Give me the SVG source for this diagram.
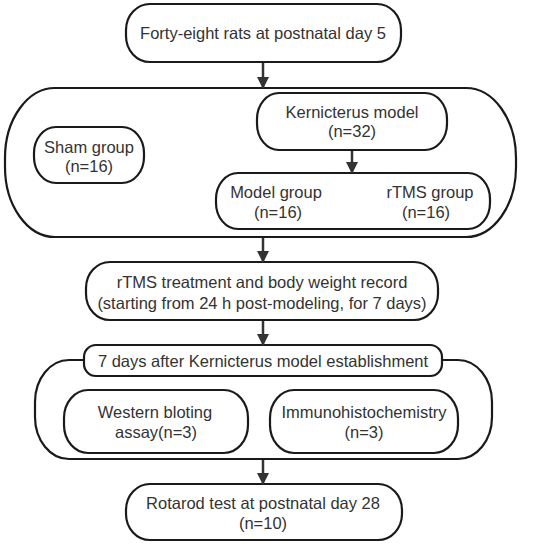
<svg xmlns="http://www.w3.org/2000/svg" width="534" height="550" viewBox="0 0 534 550">
<defs>
<marker id="ah" markerUnits="userSpaceOnUse" markerWidth="12" markerHeight="12" refX="11" refY="6" orient="auto">
<path d="M0,0 L12,6 L0,12 Z" fill="#333"/>
</marker>
<style>
.box{fill:#fff;stroke:#1a1a1a;stroke-width:2.2}
.t{font-family:"Liberation Sans",Arial,sans-serif;font-size:16.5px;fill:#333;text-anchor:middle}
.c{stroke:#333;stroke-width:2.5;fill:none}
</style>
</defs>
<rect width="534" height="550" fill="#fff"/>
<g id="n1"><rect class="box" x="126" y="4" width="275" height="58" rx="24" ry="26"/>
<text class="t" x="263" y="39">Forty-eight rats at postnatal day 5</text></g>
<g id="g1"><rect class="box" x="5" y="88" width="511" height="149" rx="50" ry="70"/></g>
<g id="n2"><rect class="box" x="257" y="93" width="190" height="57" rx="22" ry="26"/>
<text class="t" x="352" y="118">Kernicterus model</text><text class="t" x="352" y="137">(n=32)</text></g>
<g id="n3"><rect class="box" x="34" y="127" width="110" height="56" rx="22" ry="26"/>
<text class="t" x="89" y="153">Sham group</text><text class="t" x="89" y="172">(n=16)</text></g>
<g id="n4"><rect class="box" x="216" y="173" width="274" height="56" rx="22" ry="26"/>
<text class="t" x="276" y="198">Model group</text><text class="t" x="278" y="218">(n=16)</text>
<text class="t" x="430" y="198">rTMS group</text><text class="t" x="426" y="218">(n=16)</text></g>
<g id="n5"><rect class="box" x="86" y="262" width="352" height="58" rx="24" ry="26"/>
<text class="t" x="262" y="288">rTMS treatment and body weight record</text>
<text class="t" x="262" y="309">(starting from 24 h post-modeling, for 7 days)</text></g>
<g id="g2"><rect class="box" x="35" y="360" width="457" height="99" rx="34" ry="42"/></g>
<g id="n6"><rect class="box" x="84" y="345" width="358" height="31" rx="12"/>
<text class="t" x="263" y="367">7 days after Kernicterus model establishment</text></g>
<g id="n7"><rect class="box" x="64" y="390" width="184" height="63" rx="24" ry="28"/>
<text class="t" x="155" y="418">Western bloting</text><text class="t" x="156" y="438">assay(n=3)</text></g>
<g id="n8"><rect class="box" x="270" y="390" width="188" height="63" rx="24" ry="28"/>
<text class="t" x="364" y="418">Immunohistochemistry</text><text class="t" x="364" y="438">(n=3)</text></g>
<g id="n9"><rect class="box" x="126" y="484" width="276" height="56" rx="24" ry="26"/>
<text class="t" x="263" y="509">Rotarod test at postnatal day 28</text><text class="t" x="263" y="529">(n=10)</text></g>
<g id="connectors">
<line class="c" x1="263" y1="63" x2="263" y2="88" marker-end="url(#ah)"/>
<line class="c" x1="352" y1="151" x2="352" y2="173" marker-end="url(#ah)"/>
<line class="c" x1="263" y1="238" x2="263" y2="262" marker-end="url(#ah)"/>
<line class="c" x1="263" y1="321" x2="263" y2="345" marker-end="url(#ah)"/>
<line class="c" x1="263" y1="460" x2="263" y2="484" marker-end="url(#ah)"/>
</g>
</svg>
